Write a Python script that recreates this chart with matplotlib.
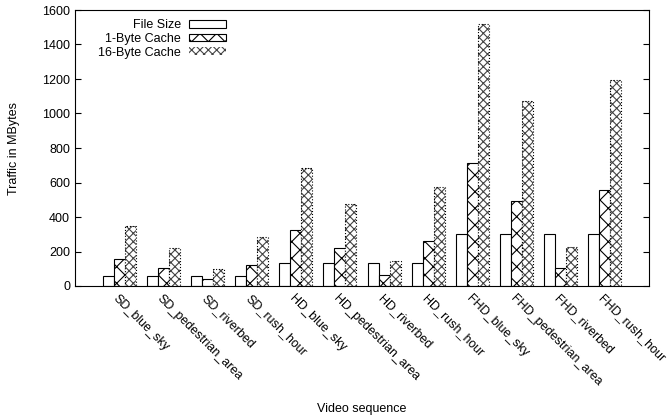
import numpy as np
import matplotlib
matplotlib.use('Agg')
import matplotlib.pyplot as plt

plt.rcParams['font.family'] = ['Liberation Sans', 'DejaVu Sans']
plt.rcParams['font.size'] = 9
plt.rcParams['hatch.linewidth'] = 0.8

sequences = ['SD_blue_sky', 'SD_pedestrian_area', 'SD_riverbed', 'SD_rush_hour',
             'HD_blue_sky', 'HD_pedestrian_area', 'HD_riverbed', 'HD_rush_hour',
             'FHD_blue_sky', 'FHD_pedestrian_area', 'FHD_riverbed', 'FHD_rush_hour']
file_size = [58, 58, 58, 58, 132, 132, 132, 132, 300, 300, 300, 300]
cache_1byte = [157, 106, 39, 120, 326, 219, 62, 262, 711, 490, 103, 556]
cache_16byte = [347, 219, 97, 283, 686, 477, 143, 574, 1519, 1070, 225, 1194]

fig = plt.figure(figsize=(6.72, 4.19), dpi=100)
ax = fig.add_axes([75/672, 1-286/419, 574/672, 276/419])

x = np.arange(len(sequences))
w = 0.25

ax.bar(x - w, file_size, w, color='white', edgecolor='black', linewidth=0.8,
       label='File Size')
ax.bar(x, cache_1byte, w, color='white', edgecolor='black', linewidth=0.8,
       hatch='xx', label='1-Byte Cache')
ax.bar(x + w, cache_16byte, w, color='white', edgecolor='#444444', linewidth=0,
       hatch='xxxx', label='16-Byte Cache')
# dotted outline on top of the dense bars
ax.bar(x + w, cache_16byte, w, color='none', edgecolor='black', linewidth=0.8,
       linestyle=':')

ax.set_xlim(-1, 12)
ax.set_ylim(0, 1600)
ax.set_yticks(np.arange(0, 1601, 200))
ax.tick_params(axis='y', direction='in', length=4.5, right=True, width=0.8)
ax.set_xticks(x)
ax.set_xticklabels(sequences, rotation=-45, ha='left', va='top',
                   rotation_mode='anchor')
ax.tick_params(axis='x', length=0, pad=5)
for s in ax.spines.values():
    s.set_linewidth(0.8)

ax.set_ylabel('Traffic in MBytes')
ax.set_xlabel('Video sequence')
ax.xaxis.set_label_coords(0.5, -0.425)
ax.yaxis.set_label_coords(-0.096, 0.5)

ax.legend(loc='upper right', bbox_to_anchor=(0.274, 0.99), frameon=False,
          markerfirst=False, handlelength=3.0, handleheight=0.6,
          labelspacing=0.15, borderpad=0, handletextpad=0.6)

fig.savefig('out.png', dpi=100)
